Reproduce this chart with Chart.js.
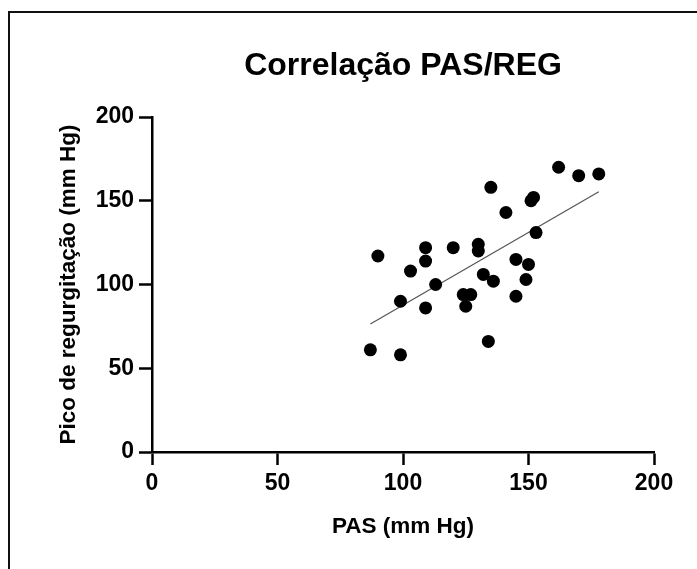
<!DOCTYPE html>
<html>
<head>
<meta charset="utf-8">
<script src="https://cdn.jsdelivr.net/npm/chart.js@4/dist/chart.umd.min.js"></script>
<style>
    html, body { margin: 0; padding: 0; background: #fff; }
    #wrap { position: relative; width: 697px; height: 569px; overflow: hidden; }
    #frame {
        position: absolute; left: 8px; top: 11px; width: 720px; height: 600px;
        border: 2px solid #111; box-sizing: border-box;
    }
    #chart { position: absolute; left: 0; top: 0; }
</style>
</head>
<body>
<div id="wrap">
    <div id="frame"></div>
    <canvas id="chart" width="697" height="569"></canvas>
</div>
<script>
// PAS (mm Hg) of each subject
var pasValues = [135, 141, 90, 109, 109, 120, 130, 130, 103, 145,
                 113, 132, 136, 99, 124, 127, 125, 109, 145, 134,
                 87, 99, 162, 170, 178, 151, 152, 153, 150, 149];

// Pico de regurgitação (mm Hg) of each subject
var regValues = [158, 143, 117, 122, 114, 122, 124, 120, 108, 115,
                 100, 106, 102, 90, 94, 94, 87, 86, 93, 66,
                 61, 58, 170, 165, 166, 150, 152, 131, 112, 103];

// regression line, end points
var fitX = [87, 178];
var fitY = [76.4, 155.4];

var axisTicks = [0, 50, 100, 150, 200];

var chartTitle = 'Correlação PAS/REG';

var fontFamily = '"Liberation Sans", Arial, sans-serif';

(function () {
    var points, fitLine, index, tickFont, axisScale, titlePlugin;

    points = [];
    for (index = 0; index < pasValues.length; index++) {
        points.push({ x: pasValues[index], y: regValues[index] });
    }

    fitLine = [];
    for (index = 0; index < fitX.length; index++) {
        fitLine.push({ x: fitX[index], y: fitY[index] });
    }

    tickFont = { family: fontFamily, size: 23, weight: 'bold' };

    // The title sits over the middle of the plot, not of the canvas.
    titlePlugin = {
        id: 'plotTitle',
        afterDraw: function (chart) {
            var ctx = chart.ctx, area = chart.chartArea;
            ctx.save();
            ctx.fillStyle = '#000';
            ctx.font = 'bold 32px ' + fontFamily;
            ctx.textAlign = 'center';
            ctx.textBaseline = 'middle';
            ctx.fillText(chartTitle, (area.left + area.right) / 2, 66);
            ctx.restore();
        }
    };

    // Both axes share the same look.
    axisScale = function (label, fit) {
        return {
            type: 'linear',
            min: 0,
            max: 200,
            afterBuildTicks: function (scale) {
                scale.ticks = axisTicks.map(function (v) { return { value: v }; });
            },
            afterFit: fit,
            border: { display: true, color: '#000', width: 2.5 },
            grid: {
                display: true,
                drawOnChartArea: false,
                drawTicks: true,
                tickLength: 13,
                tickWidth: 2.5,
                tickColor: '#000'
            },
            ticks: { color: '#000', font: tickFont, padding: 5, maxRotation: 0 },
            title: {
                display: true,
                text: label,
                color: '#000',
                font: { family: fontFamily, size: 22.5, weight: 'bold' },
                padding: { top: 0, bottom: 0 }
            }
        };
    };

    new Chart(document.getElementById('chart').getContext('2d'), {
        type: 'scatter',
        data: {
            datasets: [{
                label: 'REG',
                data: points,
                pointRadius: 6.5,
                pointHoverRadius: 6.5,
                pointBackgroundColor: '#000',
                pointBorderColor: '#000',
                pointBorderWidth: 0,
                order: 1
            }, {
                type: 'line',
                label: 'fit',
                data: fitLine,
                borderColor: '#555',
                borderWidth: 1.2,
                pointRadius: 0,
                fill: false,
                order: 2
            }]
        },
        options: {
            responsive: false,
            animation: false,
            layout: { padding: { left: 55, right: 43, top: 117, bottom: 29 } },
            plugins: {
                legend: { display: false },
                tooltip: { enabled: false },
                title: { display: false }
            },
            scales: {
                x: axisScale('PAS (mm Hg)', function (scale) { scale.height = 88; }),
                y: axisScale('Pico de regurgitação (mm Hg)', function (scale) { scale.width = 97; })
            }
        },
        plugins: [titlePlugin]
    });
})();
</script>
</body>
</html>
